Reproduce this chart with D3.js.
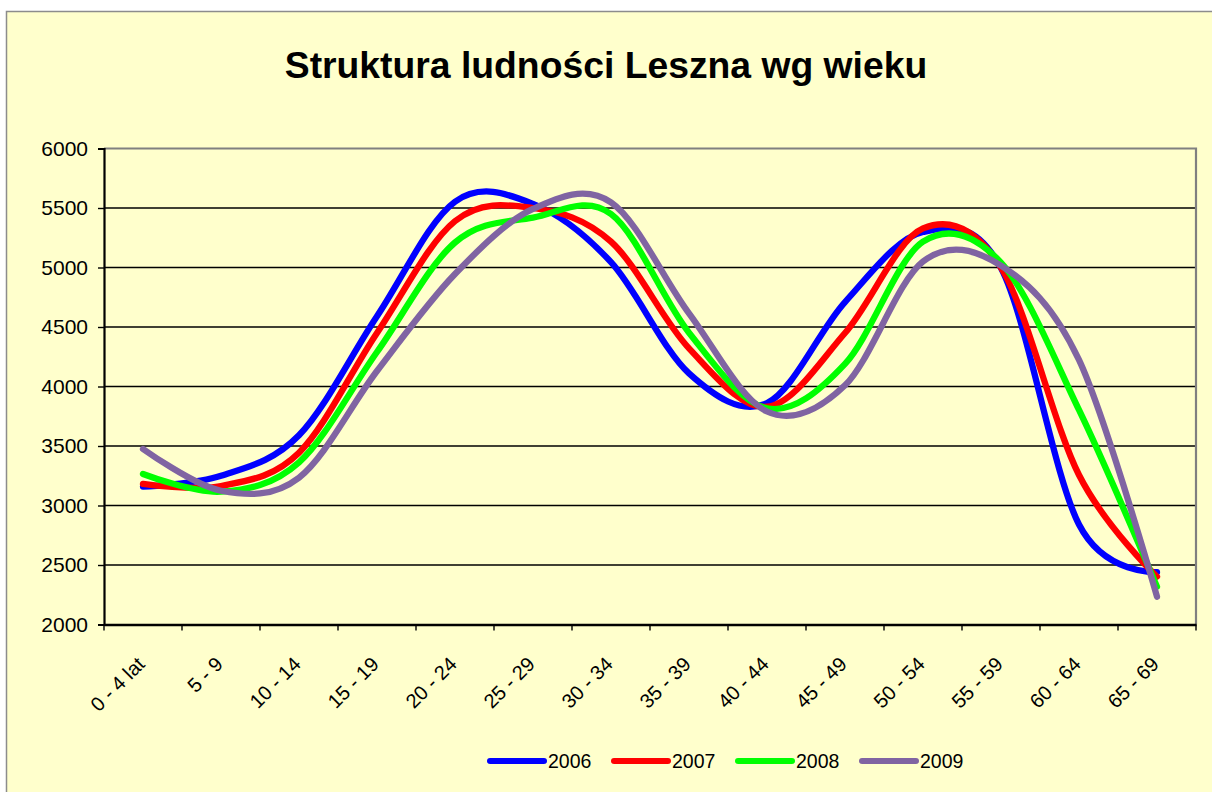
<!DOCTYPE html>
<html>
<head>
<meta charset="utf-8">
<script src="https://cdn.jsdelivr.net/npm/d3@7"></script>
<style>
  html, body { margin: 0; padding: 0; background: #ffffff; }
  svg { display: block; font-family: "Liberation Sans", Arial, sans-serif; }
</style>
</head>
<body>
<svg id="chart" width="1212" height="792"></svg>
<script>
const categories = ["0 - 4 lat","5 - 9","10 - 14","15 - 19","20 - 24","25 - 29","30 - 34","35 - 39","40 - 44","45 - 49","50 - 54","55 - 59","60 - 64","65 - 69"];
const years = ["2006","2007","2008","2009"];
const s2006 = [3158, 3250, 3590, 4590, 5553, 5535, 5045, 4110, 3861, 4710, 5298, 4995, 2840, 2440];
const s2007 = [3181, 3164, 3444, 4450, 5390, 5500, 5217, 4321, 3830, 4450, 5328, 4999, 3256, 2402];
const s2008 = [3265, 3116, 3363, 4290, 5210, 5419, 5450, 4452, 3817, 4190, 5217, 5041, 3803, 2318];
const s2009 = [3475, 3124, 3234, 4130, 4945, 5492, 5548, 4615, 3790, 4010, 5050, 5016, 4223, 2234];
const yTicks = [2000, 2500, 3000, 3500, 4000, 4500, 5000, 5500, 6000];
const colors = ["#0000ff", "#ff0000", "#00ff00", "#8064a2"];
const seriesValues = [s2006, s2007, s2008, s2009];

const svg = d3.select("#chart");
const plot = {left: 104, right: 1196, top: 148.5, bottom: 624.5};

// chart area background
svg.append("rect").attr("x", 6.5).attr("y", 11.5).attr("width", 1220).attr("height", 800)
  .attr("fill", "#ffffcc").attr("stroke", "#8c8c8c").attr("stroke-width", 1.5);

const x = d3.scaleBand().domain(categories).range([plot.left, plot.right]).paddingInner(0).paddingOuter(0);
const y = d3.scaleLinear().domain([2000, 6000]).range([plot.bottom, plot.top]);

// gridlines
svg.append("g").selectAll("line").data(yTicks.filter(t => t > 2000 && t < 6000)).join("line")
  .attr("x1", plot.left).attr("x2", plot.right)
  .attr("y1", d => y(d)).attr("y2", d => y(d))
  .attr("stroke", "#000").attr("stroke-width", 1.4);

// plot border top/right gray
svg.append("path")
  .attr("d", `M${plot.left},${plot.top}H${plot.right}V${plot.bottom}`)
  .attr("fill", "none").attr("stroke", "#808080").attr("stroke-width", 2.2);

// y axis
const yAxis = d3.axisLeft(y).tickValues(yTicks).tickSize(6).tickPadding(10).tickFormat(d3.format("d"));
const gy = svg.append("g").attr("transform", `translate(${plot.left},0)`).call(yAxis);
gy.select(".domain").attr("stroke", "#000").attr("stroke-width", 2.2);
gy.selectAll(".tick line").attr("stroke", "#000").attr("stroke-width", 1.4);
gy.selectAll(".tick text").attr("font-size", 21).attr("fill", "#000")
  .attr("font-family", "Liberation Sans, Arial, sans-serif");

// x axis
const xAxis = d3.axisBottom(x).tickSize(0).tickFormat("");
const gx = svg.append("g").attr("transform", `translate(0,${plot.bottom})`).call(xAxis);
gx.select(".domain").attr("stroke", "#000").attr("stroke-width", 2.6);
gx.selectAll(".tick").remove();
// tick marks at category boundaries
const boundaries = categories.map(c => x(c)).concat([x(categories[categories.length - 1]) + x.bandwidth()]);
svg.append("g").selectAll("line").data(boundaries).join("line")
  .attr("x1", d => d).attr("x2", d => d)
  .attr("y1", plot.bottom).attr("y2", plot.bottom + 6)
  .attr("stroke", "#000").attr("stroke-width", 1.4);
// rotated labels
svg.append("g").selectAll("text").data(categories).join("text")
  .attr("transform", d => `translate(${x(d) + x.bandwidth() / 2 + 3},${plot.bottom + 41}) rotate(-45)`)
  .attr("text-anchor", "end")
  .attr("font-size", 20).attr("fill", "#000")
  .text(d => d);

// lines
const line = d3.line()
  .x((d, i) => x(categories[i]) + x.bandwidth() / 2)
  .y(d => y(d))
  .curve(d3.curveCardinal.tension(0));
svg.append("g").selectAll("path").data(seriesValues).join("path")
  .attr("d", d => line(d))
  .attr("fill", "none")
  .attr("stroke", (d, i) => colors[i])
  .attr("stroke-width", 6.3)
  .attr("stroke-linecap", "round")
  .attr("stroke-linejoin", "round");

// title
svg.append("text").attr("x", 606).attr("y", 78).attr("text-anchor", "middle")
  .attr("font-size", 37.3).attr("font-weight", "bold").attr("fill", "#000")
  .text("Struktura ludności Leszna wg wieku");

// legend
const legendX = [490, 614, 738, 862];
const lg = svg.append("g").selectAll("g").data(years).join("g")
  .attr("transform", (d, i) => `translate(${legendX[i]},761)`);
lg.append("line").attr("x1", 0).attr("x2", 54).attr("y1", 0).attr("y2", 0)
  .attr("stroke", (d, i) => colors[i]).attr("stroke-width", 6).attr("stroke-linecap", "round");
lg.append("text").attr("x", 58).attr("y", 0).attr("dy", "0.36em")
  .attr("font-size", 19.5).attr("fill", "#000").text(d => d);
</script>
</body>
</html>
